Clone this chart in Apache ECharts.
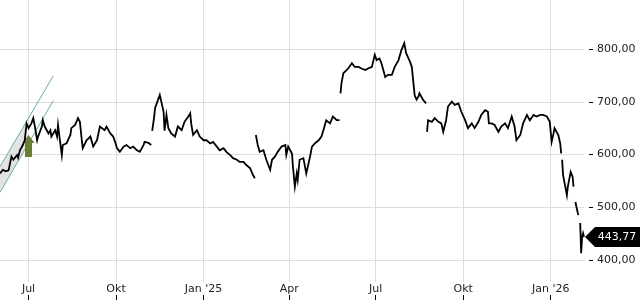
<!DOCTYPE html>
<html><head><meta charset="utf-8">
<script src="https://cdn.jsdelivr.net/npm/echarts@6/dist/echarts.min.js"></script>
<style>html,body{margin:0;padding:0;background:#fff}#c{width:640px;height:300px}</style>
</head><body><div id="c"></div>
<script>
// ---- data ----
const dates = [
'2024-06-01','2024-06-04','2024-06-07','2024-06-10','2024-06-13','2024-06-15','2024-06-19','2024-06-20','2024-06-22','2024-06-25',
'2024-06-27','2024-06-29','2024-07-01','2024-07-04','2024-07-06','2024-07-08','2024-07-10','2024-07-11','2024-07-15','2024-07-16',
'2024-07-18','2024-07-22','2024-07-24','2024-07-25','2024-07-29','2024-07-31','2024-08-01','2024-08-03','2024-08-05','2024-08-06',
'2024-08-10','2024-08-14','2024-08-15','2024-08-19','2024-08-22','2024-08-24','2024-08-26','2024-08-27','2024-08-31','2024-09-04',
'2024-09-07','2024-09-11','2024-09-14','2024-09-16','2024-09-19','2024-09-21','2024-09-25','2024-09-28','2024-09-30','2024-10-02',
'2024-10-05','2024-10-09','2024-10-12','2024-10-16','2024-10-19','2024-10-23','2024-10-26','2024-10-30','2024-10-31','2024-11-04',
'2024-11-07','2024-11-07',
'2024-11-08','2024-11-10','2024-11-11','2024-11-14','2024-11-16','2024-11-18','2024-11-20','2024-11-21','2024-11-23','2024-11-25',
'2024-11-28','2024-12-02','2024-12-05','2024-12-09','2024-12-12','2024-12-16','2024-12-18','2024-12-19','2024-12-21','2024-12-25',
'2024-12-28','2025-01-01','2025-01-04','2025-01-08','2025-01-11','2025-01-15','2025-01-18','2025-01-22','2025-01-25','2025-01-29',
'2025-02-01','2025-02-05','2025-02-08','2025-02-12','2025-02-15','2025-02-19','2025-02-22','2025-02-24','2025-02-24',
'2025-02-25','2025-02-27','2025-03-01','2025-03-05','2025-03-08','2025-03-12','2025-03-14','2025-03-17','2025-03-20','2025-03-24',
'2025-03-28','2025-03-29','2025-03-31','2025-04-04','2025-04-05','2025-04-07','2025-04-09','2025-04-10','2025-04-12','2025-04-16',
'2025-04-19','2025-04-23','2025-04-25','2025-04-28','2025-05-02','2025-05-05','2025-05-07','2025-05-10','2025-05-14','2025-05-17',
'2025-05-21','2025-05-24','2025-05-24',
'2025-05-25','2025-05-26','2025-05-28','2025-05-30','2025-06-02','2025-06-06','2025-06-09','2025-06-13','2025-06-16','2025-06-20',
'2025-06-23','2025-06-27','2025-06-30','2025-07-02','2025-07-05','2025-07-07','2025-07-09','2025-07-11','2025-07-14','2025-07-18',
'2025-07-21','2025-07-25','2025-07-28','2025-07-31','2025-08-02','2025-08-06','2025-08-08','2025-08-09','2025-08-11','2025-08-13',
'2025-08-15','2025-08-16','2025-08-18','2025-08-20','2025-08-23','2025-08-23',
'2025-08-24','2025-08-25','2025-08-29','2025-09-01','2025-09-05','2025-09-08','2025-09-10','2025-09-13','2025-09-15','2025-09-19',
'2025-09-22','2025-09-26','2025-09-29','2025-10-03','2025-10-06','2025-10-10','2025-10-13','2025-10-17','2025-10-20','2025-10-24',
'2025-10-27','2025-10-28','2025-10-31','2025-11-03','2025-11-07','2025-11-10','2025-11-14','2025-11-17','2025-11-21','2025-11-24',
'2025-11-26','2025-11-30','2025-12-03','2025-12-07','2025-12-10','2025-12-14','2025-12-17','2025-12-21','2025-12-24','2025-12-28',
'2025-12-31','2026-01-02','2026-01-04','2026-01-05','2026-01-07','2026-01-09','2026-01-11','2026-01-12','2026-01-12',
'2026-01-13','2026-01-14','2026-01-16','2026-01-18','2026-01-19','2026-01-22','2026-01-24','2026-01-25','2026-01-25',
'2026-01-27','2026-01-28','2026-01-30','2026-01-30',
'2026-02-01','2026-02-02','2026-02-03','2026-02-04','2026-02-05'
];
const closes = [
564,571,568,570,596,590,599,594,608,618,
627,659,650,659,669,650,627,634,653,665,
653,640,646,634,646,634,656,627,599,618,
621,637,650,656,669,662,627,612,627,634,
615,627,653,656,646,653,640,634,624,612,
605,615,618,612,615,608,605,618,624,622,
618,null,
645,670,688,703,713,697,681,645,675,650,
640,634,653,646,662,672,678,659,637,646,
634,627,627,621,624,615,608,612,605,599,
593,590,586,586,580,574,561,555,null,
637,618,605,608,590,571,590,596,605,615,
618,599,615,602,577,539,564,552,590,593,
564,596,615,621,627,634,646,665,659,672,
665,665,null,
716,735,754,757,763,773,766,766,763,760,
763,766,789,779,782,773,760,747,751,751,
766,779,798,811,792,776,766,747,712,704,
710,716,718,703,697,null,
643,665,662,669,662,659,643,665,691,700,
694,697,681,665,650,659,650,662,675,684,
681,659,659,656,643,653,659,650,672,653,
627,637,659,675,665,675,672,675,675,672,
662,624,640,650,653,637,621,602,null,
590,561,542,523,539,567,558,539,null,
510,501,485,null,
470,413,444,451,443.77
];
const tickDates = ['2024-07-01','2024-10-01','2025-01-01','2025-04-01','2025-07-01','2025-10-01','2026-01-01'];
const tickLabels = ['Jul','Okt',"Jan '25",'Apr','Jul','Okt',"Jan '26"];
const channelDates = ['2024-06-01','2024-06-29','2024-07-27'];
const channelUpper = [577,663,749];
const channelLower = [528,615,702];
const signalDates = ['2024-07-01'];
const signalValues = [616];
const xStart = '2024-06-01', xEnd = '2026-02-05';

// ---- chart ----
const T = s => new Date(s + 'T00:00:00').getTime();
const tickTimes = tickDates.map(T);
const FONT = 'DejaVu Sans';
const fmtNum = v => Number(v).toFixed(2).replace('.', ',');
const lastIdx = closes.length - 1;

const chart = echarts.init(document.getElementById('c'), null, {renderer:'canvas'});
chart.setOption({
  animation:false,
  backgroundColor:'#fff',
  grid:[
    {left:0, right:56, top:49, bottom:40},
    {left:0, right:56, top:0, bottom:18}
  ],
  xAxis:[
    {type:'value', gridIndex:0, min:T(xStart), max:T(xEnd), show:false, splitLine:{show:false}},
    {type:'value', gridIndex:1, min:T(xStart), max:T(xEnd),
     axisLine:{show:false},
     axisTick:{show:false, customValues:tickTimes},
     splitLine:{show:true, lineStyle:{color:'#dddddd', width:1}},
     axisLabel:{customValues:tickTimes, margin:2, color:'#222', fontFamily:FONT, fontSize:11,
       formatter:v => { const i = tickTimes.indexOf(v); return i >= 0 ? tickLabels[i] : ''; }}
    },
    {type:'value', gridIndex:1, min:T(xStart), max:T(xEnd), position:'bottom', offset:13,
     axisLine:{show:false}, axisLabel:{show:false}, splitLine:{show:false},
     axisTick:{show:true, length:5, customValues:tickTimes, lineStyle:{color:'#000'}}
    }
  ],
  yAxis:[
    {type:'value', gridIndex:0, position:'right', min:400, max:800, interval:100, offset:5,
     axisLine:{show:false},
     axisTick:{show:true, length:4, lineStyle:{color:'#000'}},
     splitLine:{show:true, lineStyle:{color:'#dddddd', width:1}},
     axisLabel:{margin:8, color:'#222', fontFamily:FONT, fontSize:11, formatter:v => fmtNum(v)}
    },
    {type:'value', gridIndex:1, show:false, min:0, max:1}
  ],
  series:[
    {type:'custom', xAxisIndex:0, yAxisIndex:0, data:[0], z:1, clip:false,
     renderItem:(params, api) => {
       const pts = [
         api.coord([T(channelDates[0]), channelUpper[0]]),
         api.coord([T(channelDates[1]), channelUpper[1]]),
         api.coord([T(channelDates[1]), channelLower[1]]),
         api.coord([T(channelDates[0]), channelLower[0]])
       ];
       return {type:'polygon', shape:{points:pts}, style:{fill:'rgba(200,200,200,0.5)'}};
     }},
    {type:'line', xAxisIndex:0, yAxisIndex:0, z:2, symbol:'none', clip:false,
     lineStyle:{color:'#6aaab4', width:1},
     data:channelDates.map((d,i)=>[T(d), channelUpper[i]])},
    {type:'line', xAxisIndex:0, yAxisIndex:0, z:2, symbol:'none', clip:false,
     lineStyle:{color:'#6aaab4', width:1},
     data:channelDates.map((d,i)=>[T(d), channelLower[i]])},
    {type:'scatter', xAxisIndex:0, yAxisIndex:0, z:3,
     symbol:'path://M6,0 L12,8 L9.5,8 L9.5,22 L2.5,22 L2.5,8 L0,8 Z', symbolSize:[12,22],
     itemStyle:{color:'#6b7c37', opacity:1},
     data:signalDates.map((d,i)=>[T(d), signalValues[i]])},
    {type:'line', xAxisIndex:0, yAxisIndex:0, z:5, symbol:'none', clip:false, connectNulls:false,
     lineStyle:{color:'#000', width:1.8, join:'miter'},
     data:dates.map((d,i)=>[T(d), closes[i]]),
     markPoint:{
       symbol:'path://M0,10 L10,0 L56,0 L56,20 L10,20 Z', symbolSize:[56,20], symbolOffset:[29,0],
       itemStyle:{color:'#000'},
       label:{show:true, position:'inside', offset:[4,0], color:'#fff', fontFamily:FONT, fontSize:11,
              formatter:p => fmtNum(p.value)},
       data:[{coord:[T(dates[lastIdx]), closes[lastIdx]], value:closes[lastIdx]}]
     }}
  ]
});
</script></body></html>
